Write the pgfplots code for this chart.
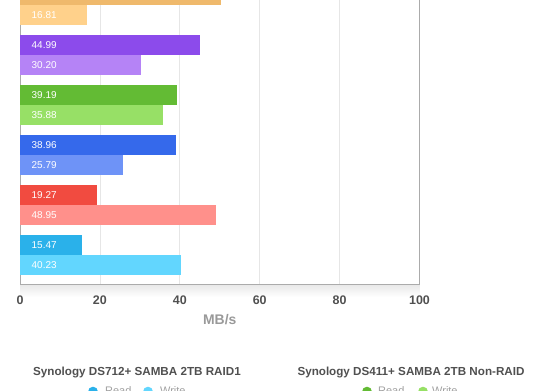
\documentclass[border=0pt]{standalone}
\usepackage{fontspec}
\setmainfont{Liberation Sans}
\usepackage{pgfplots}
\pgfplotsset{compat=1.18}
\usepackage{pgfplotstable}
\definecolor{orangeR}{HTML}{EFB96C}
\definecolor{orangeW}{HTML}{FFD18B}
\definecolor{purpleR}{HTML}{8C4BEB}
\definecolor{purpleW}{HTML}{B583F6}
\definecolor{greenR}{HTML}{63BB34}
\definecolor{greenW}{HTML}{97E066}
\definecolor{blueR}{HTML}{3569EB}
\definecolor{blueW}{HTML}{6E93F7}
\definecolor{redR}{HTML}{F14B40}
\definecolor{redW}{HTML}{FF908B}
\definecolor{cyanR}{HTML}{2AB1EA}
\definecolor{cyanW}{HTML}{62D6FE}
\definecolor{gridc}{HTML}{E6E6E6}
\definecolor{axisc}{HTML}{ABABAB}
\definecolor{tickc}{HTML}{505050}
\definecolor{labc}{HTML}{999999}
\definecolor{legc}{HTML}{A0A0A0}

\pgfplotstableread{
x y lab
0 269 16.81
0 239 44.99
0 219 30.20
0 189 39.19
0 169 35.88
0 139 38.96
0 119 25.79
0 89 19.27
0 69 48.95
0 39 15.47
0 19 40.23
}\labels

\begin{document}
\begin{tikzpicture}[x=1bp,y=1bp]
\shade[top color=black!9, bottom color=white] (20,93) rectangle (419.5,105.5);
\begin{axis}[
  at={(20bp,106bp)}, anchor=south west,
  scale only axis, width=399.5bp, height=300bp,
  xmin=0, xmax=100, ymin=0, ymax=300,
  xtick={0,20,40,60,80,100},
  xticklabels={0,20,40,60,80,100},
  ytick=\empty,
  xmajorgrids, major grid style={draw=gridc, line width=0.8bp},
  axis line style={draw=axisc, line width=0.9bp},
  major tick length=0pt,
  xticklabel style={font=\fontsize{12.5}{14}\selectfont\bfseries, text=tickc, anchor=center, yshift=-16.5bp},
  xlabel={MB/s},
  xlabel style={at={(axis description cs:0.5,0)}, anchor=center, yshift=-35.7bp, font=\fontsize{14}{16}\selectfont\bfseries, text=labc},
]
\addplot[xbar, bar width=20, bar shift=0pt, fill=orangeR, draw=none] coordinates {(50.40,289)};
\addplot[xbar, bar width=20, bar shift=0pt, fill=orangeW, draw=none] coordinates {(16.81,269)};
\addplot[xbar, bar width=20, bar shift=0pt, fill=purpleR, draw=none] coordinates {(44.99,239)};
\addplot[xbar, bar width=20, bar shift=0pt, fill=purpleW, draw=none] coordinates {(30.20,219)};
\addplot[xbar, bar width=20, bar shift=0pt, fill=greenR, draw=none] coordinates {(39.19,189)};
\addplot[xbar, bar width=20, bar shift=0pt, fill=greenW, draw=none] coordinates {(35.88,169)};
\addplot[xbar, bar width=20, bar shift=0pt, fill=blueR, draw=none] coordinates {(38.96,139)};
\addplot[xbar, bar width=20, bar shift=0pt, fill=blueW, draw=none] coordinates {(25.79,119)};
\addplot[xbar, bar width=20, bar shift=0pt, fill=redR, draw=none] coordinates {(19.27,89)};
\addplot[xbar, bar width=20, bar shift=0pt, fill=redW, draw=none] coordinates {(48.95,69)};
\addplot[xbar, bar width=20, bar shift=0pt, fill=cyanR, draw=none] coordinates {(15.47,39)};
\addplot[xbar, bar width=20, bar shift=0pt, fill=cyanW, draw=none] coordinates {(40.23,19)};
\addplot[draw=none, mark=none, point meta=explicit symbolic, nodes near coords,
  nodes near coords style={anchor=west, text=white, inner sep=0pt, xshift=11.5bp, font=\fontsize{10}{12}\selectfont}]
  table[x=x, y=y, meta=lab] {\labels};
\end{axis}
\node[anchor=base, text=tickc, font=\fontsize{11.7}{13}\selectfont\bfseries] at (137,15) {Synology DS712+ SAMBA 2TB RAID1};
\node[anchor=base, text=tickc, font=\fontsize{11.7}{13}\selectfont\bfseries] at (411,15) {Synology DS411+ SAMBA 2TB Non-RAID};
\fill[cyanR] (93,-1.7) circle (5);
\node[anchor=base west, inner sep=0pt, text=legc, font=\fontsize{11}{12}\selectfont] at (105,-4) {Read};
\fill[cyanW] (148,-1.7) circle (5);
\node[anchor=base west, inner sep=0pt, text=legc, font=\fontsize{11}{12}\selectfont] at (160,-4) {Write};
\fill[greenR] (367,-1.7) circle (5);
\node[anchor=base west, inner sep=0pt, text=legc, font=\fontsize{11}{12}\selectfont] at (378,-4) {Read};
\fill[greenW] (423,-1.7) circle (5);
\node[anchor=base west, inner sep=0pt, text=legc, font=\fontsize{11}{12}\selectfont] at (432,-4) {Write};
\pgfresetboundingbox
\useasboundingbox (0,0) rectangle (560,390);
\end{tikzpicture}
\end{document}
